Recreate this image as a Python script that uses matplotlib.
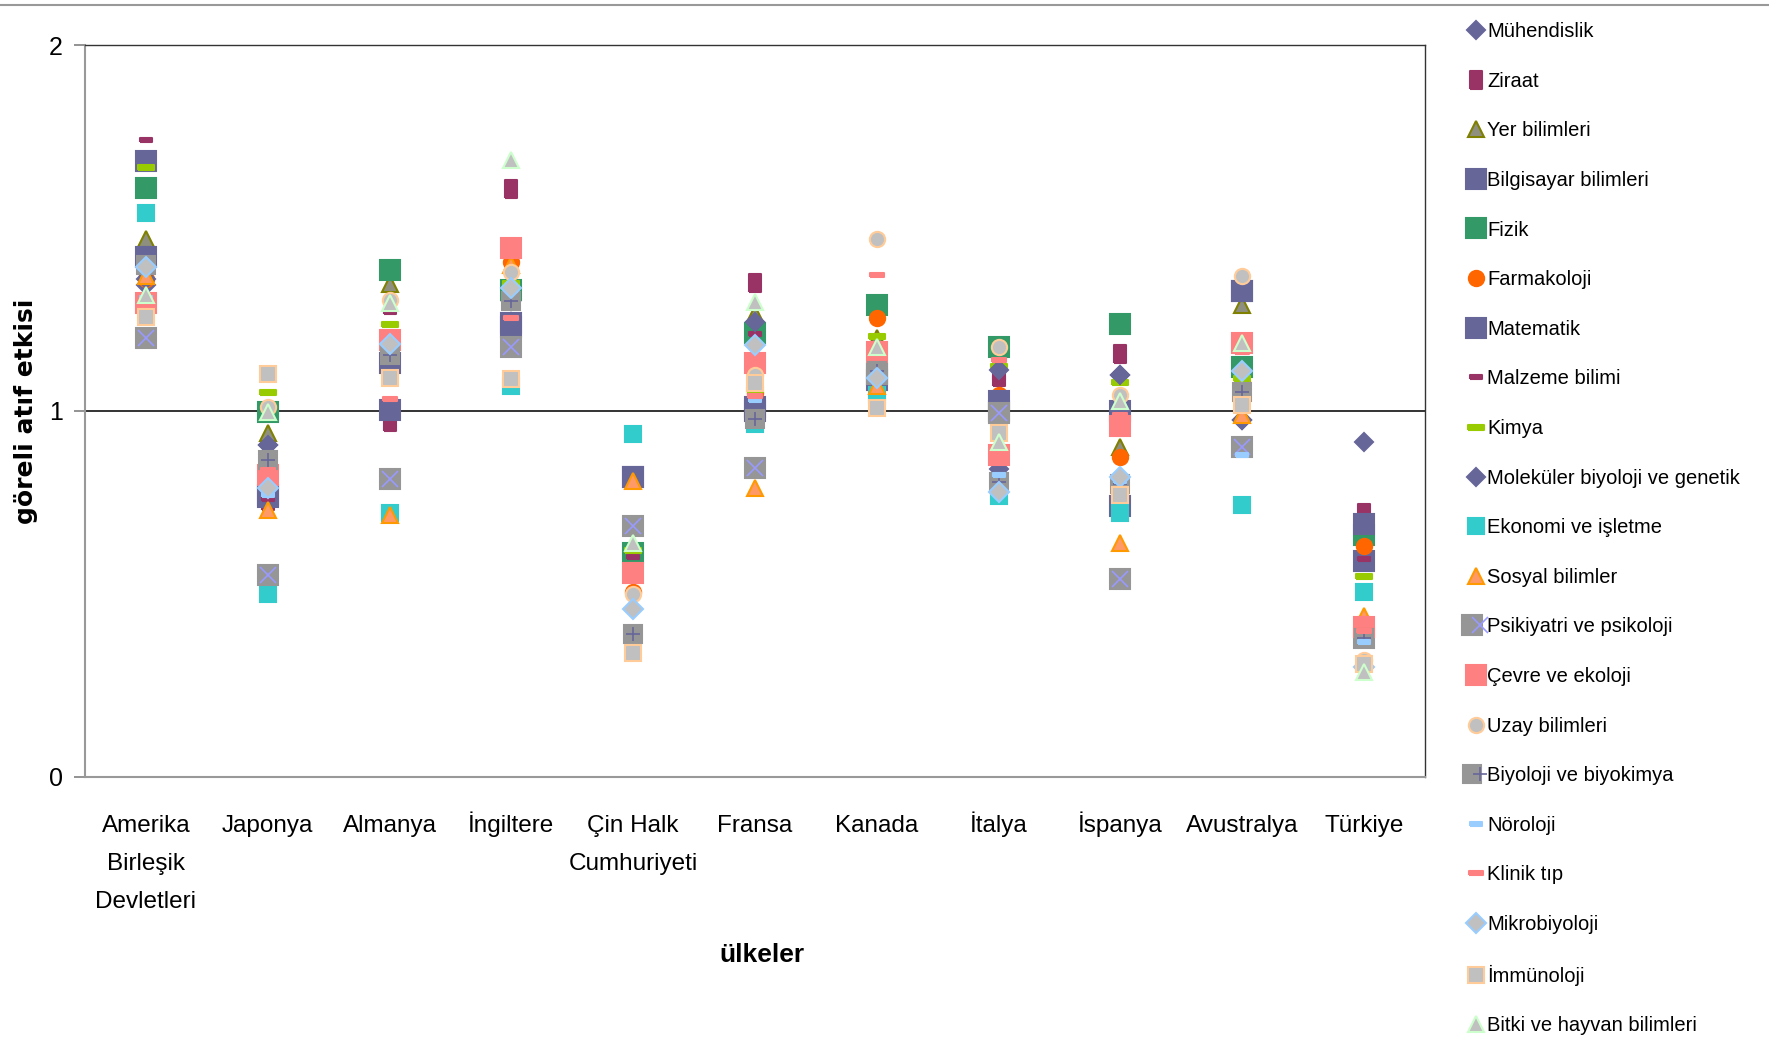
import matplotlib.pyplot as plt
from matplotlib.lines import Line2D
from matplotlib.legend_handler import HandlerTuple
import matplotlib.transforms as mtransforms

# ulkeler (x ekseni)
ulkeler = ["Amerika\nBirleşik\nDevletleri", "Japonya", "Almanya", "İngiltere",
           "Çin Halk\nCumhuriyeti", "Fransa", "Kanada", "İtalya", "İspanya",
           "Avustralya", "Türkiye"]

muhendislik = [1.345, 0.907, 1.13, 1.30, 0.82, 1.244, 1.10, 0.842, 1.099, 0.976, 0.60]
ziraat = [1.38, 0.753, 0.971, 1.607, 0.60, 1.35, 1.12, 1.094, 1.156, 1.08, 0.72]
yer_bilimleri = [1.47, 0.94, 1.347, 1.36, 0.62, 1.266, 1.20, 1.00, 0.903, 1.29, 0.60]
bilgisayar = [1.683, 0.77, 1.003, 1.23, 0.82, 1.01, 1.10, 1.00, 0.74, 1.328, 0.59]
fizik = [1.61, 0.996, 1.385, 1.33, 0.613, 1.213, 1.29, 1.176, 1.238, 1.12, 0.66]
farmakoloji = [1.36, 0.80, 1.118, 1.408, 0.505, 1.05, 1.254, 1.045, 0.875, 1.08, 0.63]
matematik = [1.42, 0.766, 1.13, 1.24, 0.82, 1.00, 1.085, 1.026, 1.00, 1.328, 0.69]
malzeme = [1.74, 0.76, 1.27, 1.35, 0.60, 1.21, 1.15, 1.09, 1.10, 1.10, 0.595]
kimya = [1.668, 1.051, 1.238, 1.35, 0.62, 1.06, 1.205, 1.123, 1.08, 1.09, 0.55]
molekuler = [1.36, 0.907, 1.13, 1.30, 0.82, 1.244, 1.10, 1.112, 1.099, 0.976, 0.915]
ekonomi = [1.54, 0.50, 0.72, 1.067, 0.937, 0.965, 1.045, 0.767, 0.72, 0.744, 0.505]
sosyal = [1.37, 0.73, 0.715, 1.40, 0.81, 0.79, 1.068, 0.90, 0.64, 0.99, 0.44]
psikiyatri = [1.20, 0.552, 0.813, 1.175, 0.687, 0.845, 1.10, 0.995, 0.54, 0.903, 0.38]
cevre = [1.295, 0.826, 1.194, 1.446, 0.558, 1.131, 1.162, 0.88, 0.96, 1.186, 0.41]
uzay = [1.40, 1.01, 1.304, 1.381, 0.50, 1.099, 1.47, 1.176, 1.045, 1.368, 0.32]
biyoloji = [1.40, 0.867, 1.153, 1.30, 0.39, 0.977, 1.108, 0.807, 0.80, 1.053, 0.38]
noroloji = [1.31, 0.77, 1.085, 1.33, 0.46, 1.03, 1.02, 0.826, 0.81, 0.88, 0.37]
klinik = [1.29, 0.84, 1.033, 1.254, 0.58, 1.04, 1.371, 1.14, 0.99, 1.16, 0.40]
mikrobiyoloji = [1.394, 0.79, 1.183, 1.336, 0.46, 1.18, 1.09, 0.78, 0.82, 1.108, 0.30]
immunoloji = [1.258, 1.101, 1.09, 1.088, 0.339, 1.076, 1.009, 0.94, 0.77, 1.017, 0.31]
bitki = [1.317, 0.996, 1.295, 1.686, 0.638, 1.299, 1.176, 0.914, 1.026, 1.186, 0.287]

plt.rcParams['font.family'] = ['Liberation Sans', 'DejaVu Sans']

dikdortgen = [(-0.7, -1), (0.7, -1), (0.7, 1), (-0.7, 1), (-0.7, -1)]
cizgi = [(-1, -0.3), (1, -0.3), (1, 0.3), (-1, 0.3), (-1, -0.3)]

# (etiket, veri, marker, boyut, dolgu, kenar, ust isaret)
seriler = [
    ("Mühendislik", muhendislik, "D", 9, "#666699", "#666699", None),
    ("Ziraat", ziraat, dikdortgen, 13, "#993366", "#993366", None),
    ("Yer bilimleri", yer_bilimleri, "^", 12, "#8f8f80", "#808000", None),
    ("Bilgisayar bilimleri", bilgisayar, "s", 15, "#666699", "#666699", None),
    ("Fizik", fizik, "s", 15, "#339966", "#339966", None),
    ("Farmakoloji", farmakoloji, "o", 11, "#FF6600", "#FF6600", None),
    ("Matematik", matematik, "s", 15, "#666699", "#666699", None),
    ("Malzeme bilimi", malzeme, cizgi, 8, "#993366", "#993366", None),
    ("Kimya", kimya, cizgi, 12, "#99CC00", "#99CC00", None),
    ("Moleküler biyoloji ve genetik", molekuler, "D", 9, "#666699", "#666699", None),
    ("Ekonomi ve işletme", ekonomi, "s", 12, "#33CCCC", "#33CCCC", None),
    ("Sosyal bilimler", sosyal, "^", 12, "#FF9966", "#FF9900", None),
    ("Psikiyatri ve psikoloji", psikiyatri, "s", 15, "#969696", "#969696", ("x", "#9999FF")),
    ("Çevre ve ekoloji", cevre, "s", 15, "#FF8080", "#FF8080", None),
    ("Uzay bilimleri", uzay, "o", 11, "#C0C0C0", "#FFCC99", None),
    ("Biyoloji ve biyokimya", biyoloji, "s", 13, "#969696", "#969696", ("+", "#666699")),
    ("Nöroloji", noroloji, cizgi, 8, "#99CCFF", "#99CCFF", None),
    ("Klinik tıp", klinik, cizgi, 10, "#FF8080", "#FF8080", None),
    ("Mikrobiyoloji", mikrobiyoloji, "D", 10, "#C0C0C0", "#99CCFF", None),
    ("İmmünoloji", immunoloji, "s", 12, "#C0C0C0", "#FFCC99", None),
    ("Bitki ve hayvan bilimleri", bitki, "^", 12, "#C0C0C0", "#CCFFCC", None),
]

fig = plt.figure(figsize=(17.69, 10.58), dpi=100)
ax = fig.add_axes([85 / 1769, 1 - 777 / 1058, 1340 / 1769, 732 / 1058])

x = list(range(len(ulkeler)))
handles = []
for i, (lab, vals, mk, ms, fc, ec, ust) in enumerate(seriler):
    h, = ax.plot(x, vals, linestyle="none", marker=mk, markersize=ms,
                 markerfacecolor=fc, markeredgecolor=ec, markeredgewidth=1.5,
                 zorder=3 + i * 0.1)
    if ust is not None:
        h2, = ax.plot(x, vals, linestyle="none", marker=ust[0], markersize=ms * 0.75,
                      markeredgecolor=ust[1], markeredgewidth=1.2, zorder=3 + i * 0.1 + 0.05)
        handles.append((h, h2))
    else:
        handles.append(h)

ax.axhline(1, color="#333333", lw=1.4, zorder=2)
ax.set_xlim(-0.5, len(ulkeler) - 0.5)
ax.set_ylim(0, 2)
ax.set_yticks([0, 1, 2])
ax.set_yticklabels(["0", "1", "2"])
ax.set_xticks(x)
ax.set_xticklabels([])
ax.tick_params(axis="x", length=0)
ax.tick_params(axis="y", length=8, width=1.2, color="#808080", labelsize=18, pad=8)
for s in ["left", "bottom"]:
    ax.spines[s].set_color("#999999")
    ax.spines[s].set_linewidth(1.5)
for s in ["top", "right"]:
    ax.spines[s].set_color("#333333")
    ax.spines[s].set_linewidth(1.0)

# ulke etiketleri: her satir ayri, taban cizgisine gore hizali
trans = mtransforms.blended_transform_factory(ax.transData, ax.transAxes)
satir = 38 / 732
for xi, lab in zip(x, ulkeler):
    for k, parca in enumerate(lab.split("\n")):
        ax.text(xi, -0.075 - k * satir, parca, transform=trans, ha="center",
                va="baseline", fontsize=17.5)

ax.set_ylabel("göreli atıf etkisi", fontsize=18, fontweight="bold",
              family=["DejaVu Sans"], labelpad=8)
ax.text(0.505, -0.243, "ülkeler", transform=ax.transAxes, ha="center", va="center",
        fontsize=19, fontweight="bold")

fig.legend(handles, [s[0] for s in seriler], loc="upper left",
           bbox_to_anchor=(1460 / 1769, 1 - 14 / 1058), frameon=False,
           fontsize=14.5, handlelength=0.8, handletextpad=0.15, labelspacing=1.52,
           borderaxespad=0, handler_map={tuple: HandlerTuple(ndivide=None, pad=0)})

fig.add_artist(Line2D([0, 1], [1 - 5 / 1058, 1 - 5 / 1058], color="#999999", lw=1.5,
                      transform=fig.transFigure))

fig.savefig("out.png", dpi=100)
